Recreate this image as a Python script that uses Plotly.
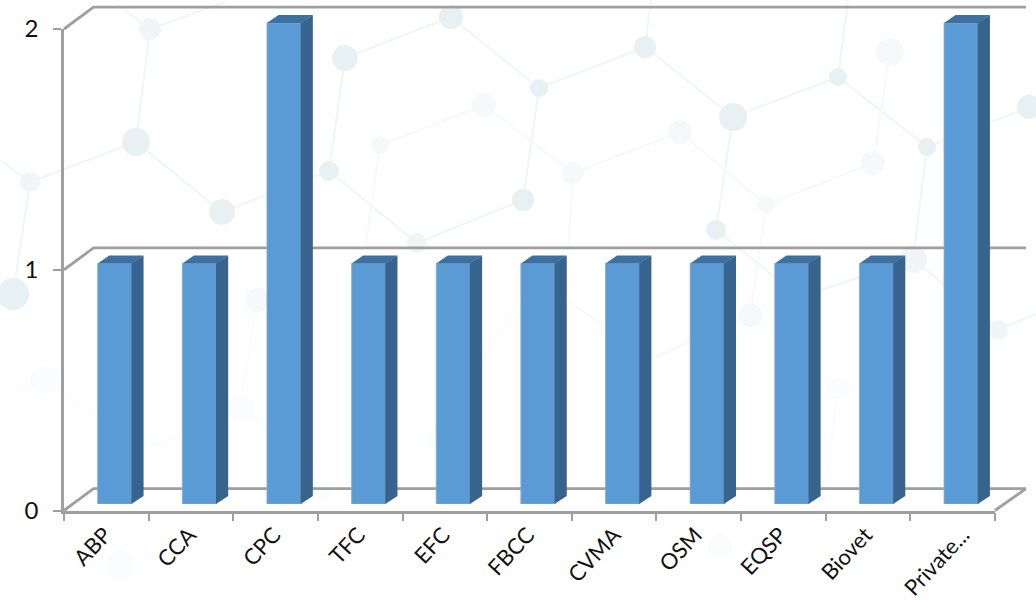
import plotly.graph_objects as go

# Chart data
categories = ["ABP", "CCA", "CPC", "TFC", "EFC", "FBCC", "CVMA", "OSM", "EQSP", "Biovet", "Private..."]
counts = [1, 1, 2, 1, 1, 1, 1, 1, 1, 1, 2]
y_ticks = [0, 1, 2]
# Small sideways nudges for the rotated labels, in category units
label_nudge = [-0.02, -0.02, -0.02, -0.02, -0.02, -0.02, 0.0, -0.04, -0.04, -0.03, 0.12]

# Page and pseudo-3D geometry, in pixels
W, H = 1036, 600
FRONT_LEFT, FRONT_RIGHT = 64, 995
FRONT_Y0, FRONT_Y2 = 510.5, 29
BAR_Y0, BAR_Y2 = 504, 23
BAR_SHIFT_X = 8.5
UNIT_X = (FRONT_RIGHT - FRONT_LEFT) / len(categories)
UNIT_Y = (FRONT_Y0 - FRONT_Y2) / 2
BAR_UNIT_Y = (BAR_Y0 - BAR_Y2) / 2
BAR_WIDTH = 34.3 / UNIT_X
BAR_DEPTH_X = 11.6 / UNIT_X
BAR_DEPTH_Y = 8 / BAR_UNIT_Y
SEAM = 0.6 / UNIT_X
WALL_DEPTH_LEFT = 29.5 / UNIT_X
WALL_DEPTH_RIGHT = 31 / UNIT_X
WALL_DEPTH_Y = 21.8 / UNIT_Y
FRAME = "#9f9f9f"
TEXT = "#111111"
FONT = "Lato"

# Faint molecular network behind the plot: x, y, radius, tone
STRONG, MEDIUM, FAINT, LOW = "#e7f0f3", "#f0f5f7", "#f6f9fb", "#fafcfd"
net_nodes = [
    (150, 29, 11, MEDIUM), (136, 142, 14, STRONG), (30, 182, 10, MEDIUM), (222, 212, 13, STRONG),
    (345, 58, 13, STRONG), (329, 171, 10, STRONG), (13, 294, 16, STRONG), (451, 17, 12, STRONG),
    (539, 88, 9, STRONG), (484, 105, 12, FAINT), (380, 145, 9, FAINT), (523, 200, 11, STRONG),
    (417, 243, 10, MEDIUM), (573, 173, 11, FAINT), (645, 47, 11, STRONG), (680, 132, 12, FAINT),
    (733, 117, 14, STRONG), (838, 77, 9, STRONG), (890, 52, 14, FAINT), (927, 147, 9, STRONG),
    (1029, 107, 12, STRONG), (716, 230, 10, STRONG), (766, 205, 9, FAINT), (873, 163, 12, FAINT),
    (913, 259, 14, MEDIUM), (998, 330, 10, MEDIUM), (45, 380, 15, LOW), (240, 408, 13, LOW),
    (257, 300, 12, FAINT), (432, 440, 8, LOW), (750, 315, 12, FAINT), (838, 388, 11, LOW),
    (120, 565, 15, LOW), (322, 490, 10, LOW), (720, 545, 12, LOW),
]
net_edges = [
    ((150, 29), (136, 142), MEDIUM), ((150, 29), (225, 2), MEDIUM), ((150, 29), (118, 5), MEDIUM),
    ((136, 142), (30, 182), MEDIUM), ((136, 142), (222, 212), MEDIUM), ((30, 182), (13, 294), MEDIUM),
    ((30, 182), (0, 160), MEDIUM), ((222, 212), (329, 171), MEDIUM), ((329, 171), (345, 58), MEDIUM),
    ((329, 171), (417, 243), MEDIUM), ((345, 58), (451, 17), MEDIUM), ((451, 17), (539, 88), MEDIUM),
    ((539, 88), (645, 47), MEDIUM), ((539, 88), (523, 200), MEDIUM), ((523, 200), (417, 243), MEDIUM),
    ((645, 47), (733, 117), MEDIUM), ((645, 47), (651, 0), MEDIUM), ((733, 117), (838, 77), MEDIUM),
    ((733, 117), (716, 230), MEDIUM), ((838, 77), (927, 147), MEDIUM), ((838, 77), (848, 0), MEDIUM),
    ((927, 147), (913, 259), MEDIUM), ((927, 147), (1029, 107), MEDIUM), ((716, 230), (800, 297), MEDIUM),
    ((800, 297), (913, 259), MEDIUM), ((913, 259), (998, 330), MEDIUM), ((998, 330), (1036, 314), MEDIUM),
    ((484, 105), (380, 145), FAINT), ((484, 105), (573, 173), FAINT), ((573, 173), (680, 132), FAINT),
    ((573, 173), (568, 250), FAINT), ((680, 132), (766, 205), FAINT), ((766, 205), (873, 163), FAINT),
    ((873, 163), (890, 52), FAINT), ((766, 205), (750, 315), FAINT), ((380, 145), (366, 245), FAINT),
    ((45, 380), (148, 448), LOW), ((45, 380), (0, 400), LOW), ((148, 448), (240, 408), LOW),
    ((240, 408), (257, 300), LOW), ((240, 408), (322, 470), LOW), ((432, 440), (520, 300), LOW),
    ((568, 300), (606, 328), FAINT), ((653, 358), (750, 315), FAINT), ((750, 315), (838, 388), LOW),
    ((838, 388), (822, 520), LOW),
]


def px(x):
    return x / W


def py(y):
    return 1 - y / H


shapes = []
for (x0, y0), (x1, y1), tone in net_edges:
    shapes.append(dict(type="line", xref="paper", yref="paper", layer="below",
                       x0=px(x0), y0=py(y0), x1=px(x1), y1=py(y1),
                       line=dict(color=tone, width=2)))
for x, y, r, tone in net_nodes:
    shapes.append(dict(type="circle", xref="paper", yref="paper", layer="below",
                       x0=px(x - r), y0=py(y - r), x1=px(x + r), y1=py(y + r),
                       fillcolor=tone, line=dict(width=0)))

fig = go.Figure()

positions = list(range(len(categories)))
x_lo, x_hi = -0.5, len(categories) - 0.5

# Keeps the tick-carrying front axes alive under the other layers
fig.add_trace(go.Scatter(x=positions, y=counts, mode="markers", marker=dict(opacity=0),
                         xaxis="x", yaxis="y", hoverinfo="skip", showlegend=False))

# Back walls and floor, stepped back from the front plane (full-page axes so nothing clips)
frame_x, frame_y = [], []
for level in y_ticks:
    frame_x += [x_lo, x_lo + WALL_DEPTH_LEFT, x_hi + WALL_DEPTH_RIGHT, None]
    frame_y += [level, level + WALL_DEPTH_Y, level + WALL_DEPTH_Y, None]
frame_x += [x_hi, x_hi + WALL_DEPTH_RIGHT]
frame_y += [0, WALL_DEPTH_Y]
fig.add_trace(go.Scatter(x=frame_x, y=frame_y, mode="lines", xaxis="x2", yaxis="y2",
                         line=dict(color=FRAME, width=2.8), hoverinfo="skip", showlegend=False))

# Column faces: dark side and top polygons, then the front through a bar trace
side_x, side_y, top_x, top_y = [], [], [], []
for x, v in zip(positions, counts):
    l, r = x - BAR_WIDTH / 2, x + BAR_WIDTH / 2
    side_x += [r - SEAM, r + BAR_DEPTH_X, r + BAR_DEPTH_X, r - SEAM, r - SEAM, None]
    side_y += [0, BAR_DEPTH_Y, v + BAR_DEPTH_Y, v, 0, None]
    top_x += [l, l + BAR_DEPTH_X, r + BAR_DEPTH_X, r, l, None]
    top_y += [v, v + BAR_DEPTH_Y, v + BAR_DEPTH_Y, v, v, None]
fig.add_trace(go.Scatter(x=side_x, y=side_y, mode="lines", fill="toself", fillcolor="#37648e",
                         line=dict(width=0), xaxis="x3", yaxis="y3", hoverinfo="skip", showlegend=False))
fig.add_trace(go.Scatter(x=top_x, y=top_y, mode="lines", fill="toself", fillcolor="#3c70a3",
                         line=dict(width=0), xaxis="x3", yaxis="y3", hoverinfo="skip", showlegend=False))
fig.add_trace(go.Bar(x=positions, y=counts, width=BAR_WIDTH, xaxis="x3", yaxis="y3",
                     marker=dict(color="#5b9bd5", line=dict(color="#9aa9b5", width=0.8)),
                     showlegend=False))

tick_style = dict(ticks="outside", ticklen=8, tickwidth=2, tickcolor=FRAME)
bar_top = 2.09
fig.update_layout(
    width=W, height=H, autosize=False,
    margin=dict(l=0, r=0, t=0, b=0, autoexpand=False),
    paper_bgcolor="white", plot_bgcolor="rgba(0,0,0,0)",
    font=dict(family=FONT, color=TEXT, size=21),
    shapes=shapes,
    xaxis=dict(
        domain=[px(FRONT_LEFT), px(FRONT_RIGHT)], range=[x_lo, x_hi], anchor="y", automargin=False,
        tickmode="array", tickvals=[p + n for p, n in zip(positions, label_nudge)],
        ticktext=categories, tickangle=-47,
        ticks="", showgrid=False, zeroline=False, showline=True, linecolor=FRAME, linewidth=2.8,
        ticklabelstandoff=0, tickfont=dict(size=22),
        minor=dict(tickmode="array", tickvals=[p - 0.5 for p in positions] + [x_hi],
                   showgrid=False, **tick_style),
    ),
    yaxis=dict(
        domain=[py(FRONT_Y0), py(FRONT_Y2)], range=[0, 2], anchor="x", automargin=False,
        tickmode="array", tickvals=y_ticks, showgrid=False, zeroline=False,
        showline=True, linecolor=FRAME, linewidth=2.8, ticklabelstandoff=10,
        tickfont=dict(size=24), **tick_style,
    ),
    # Same scale as the front axes, widened to the whole page
    xaxis2=dict(
        domain=[0, 1], range=[x_lo - FRONT_LEFT / UNIT_X, x_lo + (W - FRONT_LEFT) / UNIT_X],
        anchor="y2", visible=False, automargin=False,
    ),
    yaxis2=dict(
        domain=[0, 1], range=[-(H - FRONT_Y0) / UNIT_Y, FRONT_Y0 / UNIT_Y],
        anchor="x2", visible=False, automargin=False,
    ),
    # Plane of the columns, a little behind the front edge of the floor
    xaxis3=dict(
        domain=[px(FRONT_LEFT + BAR_SHIFT_X), px(FRONT_RIGHT + BAR_SHIFT_X)], range=[x_lo, x_hi],
        anchor="y3", visible=False, automargin=False,
    ),
    yaxis3=dict(
        domain=[py(BAR_Y0), py(BAR_Y0 - bar_top * BAR_UNIT_Y)], range=[0, bar_top],
        anchor="x3", visible=False, automargin=False,
    ),
)

fig.write_html("out.html")
